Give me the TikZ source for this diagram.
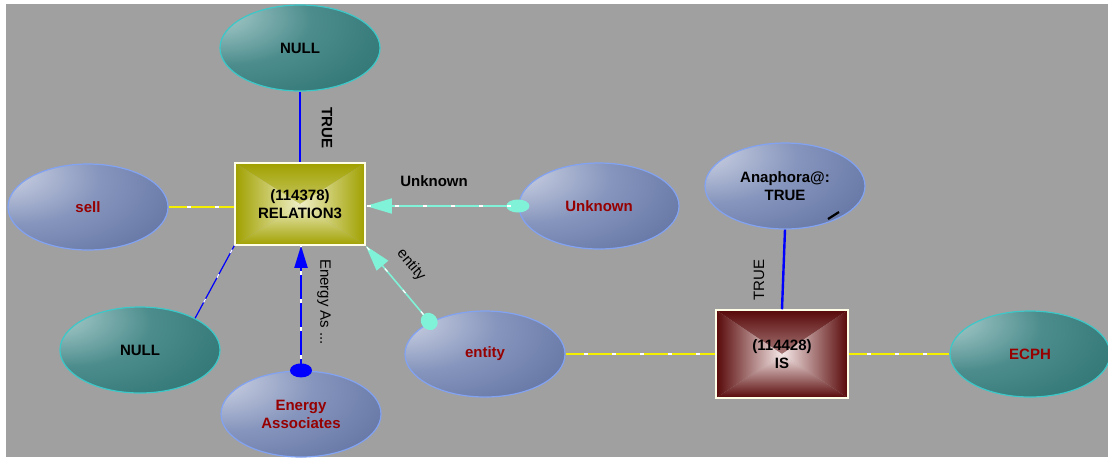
\documentclass[tikz,border=0pt]{standalone}
\usepackage{fontspec}
\setmainfont{Liberation Sans}
\usetikzlibrary{arrows.meta,shapes.geometric}

% palette
\definecolor{canvas}{HTML}{A0A0A0}
\definecolor{dred}{HTML}{960000}
\definecolor{linkyellow}{HTML}{F4F000}
\definecolor{linkcyan}{HTML}{80F2D8}
\definecolor{linkblue}{HTML}{0000FF}
\definecolor{sbA}{HTML}{EEF0F6}
\definecolor{sbB}{HTML}{C4CBDE}
\definecolor{sbC}{HTML}{8695BD}
\definecolor{sbD}{HTML}{5E70A0}
\definecolor{sbE}{HTML}{4D6194}
\definecolor{tlA}{HTML}{DCECEC}
\definecolor{tlB}{HTML}{9EC4C4}
\definecolor{tlC}{HTML}{4C8C8C}
\definecolor{tlD}{HTML}{2D7272}
\definecolor{tlE}{HTML}{226464}
\definecolor{steelrim}{HTML}{82A2F2}
\definecolor{tealrim}{HTML}{3CC8C8}
\definecolor{oliveedge}{HTML}{A0A000}
\definecolor{olivecore}{HTML}{F0F0C8}
\definecolor{maroonedge}{HTML}{580808}
\definecolor{marooncore}{HTML}{F6E8E8}

% glossy ellipse fills, lit from the upper left
\pgfdeclareradialshading{steelglow}{\pgfpoint{-30bp}{22bp}}{%
  color(0bp)=(sbA); color(6bp)=(sbB); color(26bp)=(sbC); color(52bp)=(sbD); color(75bp)=(sbE); color(100bp)=(sbE)}
\pgfdeclareradialshading{tealglow}{\pgfpoint{-30bp}{22bp}}{%
  color(0bp)=(tlA); color(6bp)=(tlB); color(26bp)=(tlC); color(52bp)=(tlD); color(75bp)=(tlE); color(100bp)=(tlE)}

\tikzset{
  x=1pt, y=-1pt,
  lbl/.style={font=\fontsize{15}{18}\selectfont, inner sep=0pt},
  boldlbl/.style={lbl, font=\bfseries\fontsize{15}{18}\selectfont},
  ovalnode/.style={ellipse, minimum width=160pt, minimum height=86pt, inner sep=0pt,
    align=center, font=\bfseries\fontsize{15}{18}\selectfont, line width=1.2pt},
  steeloval/.style={ovalnode, shading=steelglow, draw=steelrim},
  tealoval/.style={ovalnode, shading=tealglow, draw=tealrim},
  % box shaded as a pyramid: dark rim, light centre
  pyramid/.style 2 args={path picture={
    \shade[top color=#1, bottom color=#2] (path picture bounding box.north west)
      -- (path picture bounding box.north east) -- (path picture bounding box.center) -- cycle;
    \shade[bottom color=#1, top color=#2] (path picture bounding box.south west)
      -- (path picture bounding box.south east) -- (path picture bounding box.center) -- cycle;
    \shade[left color=#1, right color=#2] (path picture bounding box.north west)
      -- (path picture bounding box.south west) -- (path picture bounding box.center) -- cycle;
    \shade[right color=#1, left color=#2] (path picture bounding box.north east)
      -- (path picture bounding box.south east) -- (path picture bounding box.center) -- cycle;
  }},
  conceptbox/.style={rectangle, inner sep=0pt, align=center,
    font=\bfseries\fontsize{15}{18}\selectfont, draw=white!90!yellow, line width=1.5pt},
  flecks/.style={postaction={draw=white, -, line width=1.2pt, dash pattern=on 4pt off 24pt, dash phase=10pt}},
  ylink/.style={draw=linkyellow, line width=1.6pt, flecks},
  clink/.style={draw=linkcyan, line width=1.6pt, flecks},
  blink/.style={draw=linkblue, line width=1.6pt},
}

\begin{document}
\begin{tikzpicture}
  % backdrop
  \useasboundingbox (0,0) rectangle (1108,459);
  \fill[white] (0,0) rectangle (1108,459);
  \fill[canvas] (6,4) rectangle (1108,457);

  % concepts
  \node[conceptbox, pyramid={oliveedge}{olivecore}, minimum width=130pt, minimum height=82pt]
    (rel) at (300,204) {(114378)\\RELATION3};
  \node[conceptbox, pyramid={maroonedge}{marooncore}, minimum width=132pt, minimum height=88pt]
    (is) at (782,354) {(114428)\\IS};

  \node[tealoval]  (nulltop) at (300,48)  {NULL};
  \node[steeloval, text=dred] (sell) at (88,207) {sell};
  \node[steeloval, text=dred] (unk)  at (599,206) {Unknown};
  \node[tealoval]  (nullbot) at (140,350) {NULL};
  \node[steeloval, text=dred] (ea)   at (301,414) {Energy\\Associates};
  \node[steeloval, text=dred] (ent)  at (485,354) {entity};
  \node[steeloval] (ana) at (785,186) {Anaphora@:\\TRUE};
  \node[tealoval, text=dred]  (ecph) at (1030,354) {ECPH};

  % links around RELATION3
  \draw[blink, line width=2.4pt] (nulltop.south) -- (rel.north);
  \draw[ylink] (sell.east) -- (sell.east -| rel.west);
  \draw[clink, {Ellipse[length=23pt,width=13pt]}-{Triangle[length=26pt,width=15pt]}, shorten <=-11pt]
    (unk.west) -- (unk.west -| rel.east);
  \draw[blink, line width=1.2pt, flecks] (nullbot.30) -- (rel.south west);
  \draw[blink, line width=1.8pt, flecks, {Ellipse[length=14pt,width=22pt]}-{Triangle[length=22pt,width=13pt]}, shorten <=-7pt]
    (ea.north) -- (ea.north |- rel.south);
  \draw[clink, {Ellipse[length=18pt,width=16pt]}-{Triangle[length=26pt,width=15pt]}, shorten <=-8pt]
    (ent.150) -- (rel.south east);

  % links around IS
  \draw[ylink] (ent.east) -- (is.west);
  \draw[ylink] (is.east) -- (ecph.west);
  \draw[blink, line width=2.4pt] (ana.south) -- (is.north);

  % stray stroke on the Anaphora oval
  \coordinate (mkA) at (828,219);
  \coordinate (mkB) at (839,212);
  \draw[black, line width=2.2pt] (mkA) -- (mkB);

  % link labels
  \node[boldlbl, rotate=-90] (lTrueTop) at (327,128) {TRUE};
  \node[boldlbl] (lUnk) at (434,181) {Unknown};
  \node[lbl, rotate=-90] (lEa) at (324,302) {Energy As ...};
  \node[lbl, rotate=-50] (lEnt) at (411,265) {entity};
  \node[lbl, rotate=90] (lTrueIs) at (759,280) {TRUE};
\end{tikzpicture}
\end{document}
